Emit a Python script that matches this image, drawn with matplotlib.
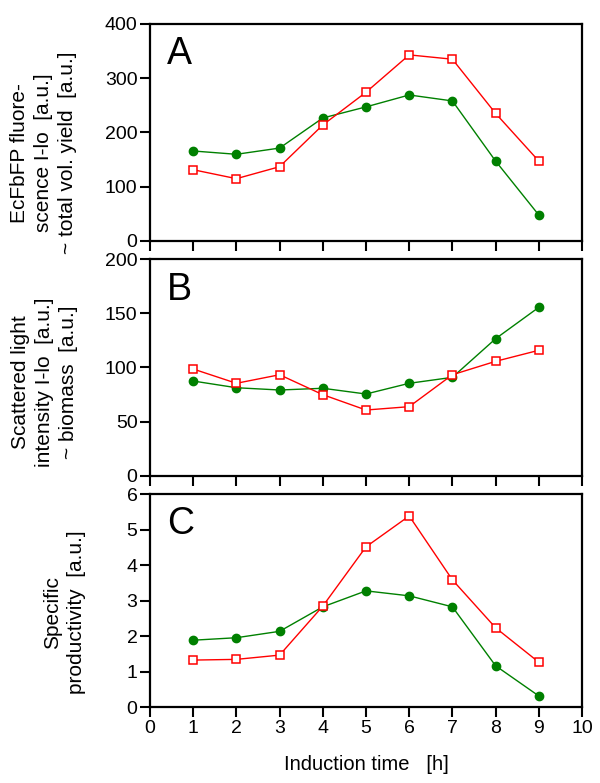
import matplotlib
matplotlib.use("Agg")
import matplotlib.pyplot as plt

plt.rcParams['font.family'] = ['Liberation Sans', 'DejaVu Sans']

hours = [1, 2, 3, 4, 5, 6, 7, 8, 9]

# Panel A: EcFbFP fluorescence (total vol. yield)
a_green = [165.6, 159.5, 171, 226.5, 247, 269, 258, 147, 47.4]
a_red = [131, 114.5, 136.6, 213.6, 274, 343, 335, 235, 147]

# Panel B: scattered light (biomass)
b_green = [87.5, 81.3, 79.2, 80.8, 75.5, 85.4, 90.9, 126.6, 155.6]
b_red = [98.6, 85.4, 93.3, 74.9, 60.7, 63.8, 93.3, 105.7, 115.9]

# Panel C: specific productivity
c_green = [1.89, 1.96, 2.14, 2.83, 3.28, 3.14, 2.83, 1.17, 0.32]
c_red = [1.33, 1.35, 1.47, 2.85, 4.52, 5.39, 3.59, 2.24, 1.27]

panel_letters = ["A", "B", "C"]
ylabels = [
    "EcFbFP fluore-\nscence I-lo  [a.u.]\n~ total vol. yield  [a.u.]",
    "Scattered light\nintensity I-lo  [a.u.]\n~ biomass  [a.u.]",
    "Specific\nproductivity  [a.u.]",
]
yticks = [
    [0, 100, 200, 300, 400],
    [0, 50, 100, 150, 200],
    [0, 1, 2, 3, 4, 5, 6],
]
xticks = list(range(0, 11))
xlabel = "Induction time   [h]"

fig = plt.figure(figsize=(6.0, 7.83), dpi=100)
W, H = 600.0, 783.0
boxes = [(24.0, 240.7), (259.3, 475.7), (494.3, 707.3)]
left_px, right_px = 150.0, 582.0
label_pos = [(-0.168, 0.405), (-0.166, 0.433), (-0.147, 0.447)]

series = [(a_green, a_red), (b_green, b_red), (c_green, c_red)]

for i, ((top, bot), (g, r)) in enumerate(zip(boxes, series)):
    ax = fig.add_axes([left_px / W, 1 - bot / H, (right_px - left_px) / W, (bot - top) / H])
    ax.plot(hours, g, color="#008000", lw=1.0, marker="o", ms=6,
            mfc="#008000", mec="#008000", zorder=3)
    ax.plot(hours, r, color="#ff0000", lw=1.0, marker="s", ms=5.5,
            mfc="white", mec="#ff0000", mew=1.1, zorder=3)
    ax.set_xlim(0, 10)
    ax.set_ylim(yticks[i][0], yticks[i][-1])
    ax.set_yticks(yticks[i])
    ax.set_xticks(xticks)
    for s in ax.spines.values():
        s.set_linewidth(1.6)
        s.set_color("black")
    ax.tick_params(direction="out", length=7, width=1.5, labelsize=14, pad=2)
    if i < 2:
        ax.tick_params(axis="x", labelbottom=False)
    else:
        ax.set_xlabel(xlabel, fontsize=14.5, labelpad=13)
    ax.text(0.04, 0.86, panel_letters[i], transform=ax.transAxes,
            fontsize=27, ha="left", va="center")
    ax.set_ylabel(ylabels[i], fontsize=15, linespacing=1.35)
    ax.yaxis.set_label_coords(*label_pos[i])

fig.savefig("out.png", dpi=100)
